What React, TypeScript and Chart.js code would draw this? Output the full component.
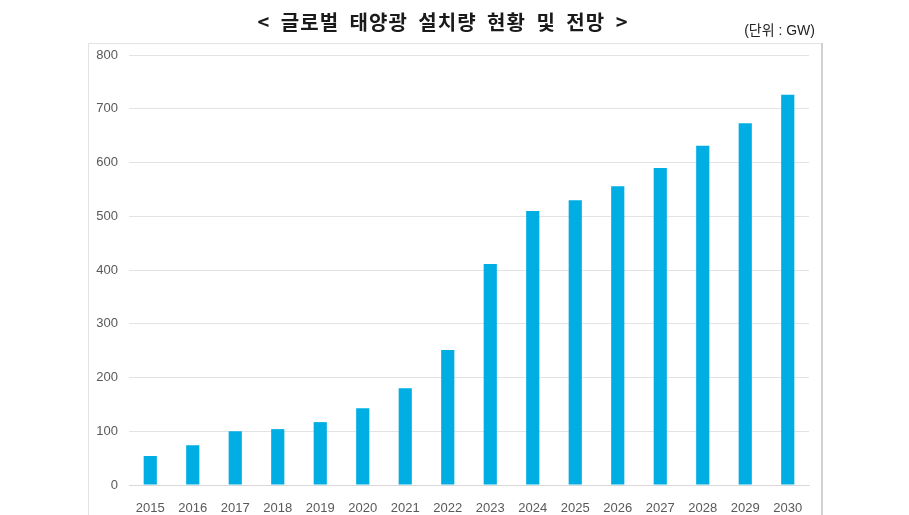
import React, { useEffect, useRef } from "react";
import { Chart, registerables } from "chart.js";

Chart.register(...registerables);

const TITLE = "< 글로벌 태양광 설치량 현황 및 전망 >";
const UNIT = "(단위 : GW)";
const years = ["2015","2016","2017","2018","2019","2020","2021","2022","2023","2024","2025","2026","2027","2028","2029","2030"];
const installs = [54, 74, 100, 104, 117, 143, 180, 251, 411, 510, 530, 556, 590, 631, 673, 726];
const yTicks = [0, 100, 200, 300, 400, 500, 600, 700, 800];

const framePlugin = {
  id: "frame",
  beforeDraw(chart: any) {
    const ctx = chart.ctx;
    ctx.save();
    ctx.fillStyle = "#ffffff";
    ctx.fillRect(0, 0, chart.width, chart.height);
    ctx.strokeStyle = "#e3e3e3";
    ctx.lineWidth = 1;
    ctx.beginPath();
    ctx.moveTo(88.5, 520);
    ctx.lineTo(88.5, 43.5);
    ctx.lineTo(821.5, 43.5);
    ctx.stroke();
    ctx.strokeStyle = "#d0d0d0";
    ctx.lineWidth = 2;
    ctx.beginPath();
    ctx.moveTo(822, 43);
    ctx.lineTo(822, 520);
    ctx.stroke();
    ctx.fillStyle = "#1a1a1a";
    ctx.font = "bold 20px 'Noto Sans CJK KR', sans-serif";
    ctx.textAlign = "center";
    ctx.textBaseline = "middle";
    (ctx as any).letterSpacing = "1px";
    (ctx as any).wordSpacing = "5px";
    ctx.fillText(TITLE, 443, 22);
    (ctx as any).letterSpacing = "0px";
    (ctx as any).wordSpacing = "0px";
    ctx.font = "14px 'Liberation Sans', 'Noto Sans CJK KR', sans-serif";
    ctx.textAlign = "right";
    ctx.fillStyle = "#222222";
    ctx.fillText(UNIT, 815, 31);
    ctx.restore();
  },
};

export default function App() {
  const ref = useRef<HTMLCanvasElement | null>(null);
  useEffect(() => {
    if (!ref.current) return;
    const chart = new Chart(ref.current, {
      type: "bar",
      data: {
        labels: years,
        datasets: [
          {
            data: installs,
            backgroundColor: "#00aee4",
            barPercentage: 0.31,
            categoryPercentage: 1,
          },
        ],
      },
      options: {
        animation: false,
        responsive: false,
        maintainAspectRatio: false,
        layout: { padding: { left: 88, right: 100, top: 55, bottom: 0 } },
        plugins: { legend: { display: false }, tooltip: { enabled: false } },
        scales: {
          x: {
            grid: { display: false },
            border: { display: true, color: "#d9d9d9" },
            ticks: { color: "#595959", font: { family: "'Liberation Sans', Arial", size: 13 }, padding: 8, maxRotation: 0 },
            afterFit: (s: any) => { s.height = 30; },
          },
          y: {
            min: 0,
            max: 800,
            afterBuildTicks: (s: any) => { s.ticks = yTicks.map((v) => ({ value: v })); },
            grid: { color: "#e3e3e3", drawTicks: false },
            border: { display: false },
            ticks: { color: "#595959", font: { family: "'Liberation Sans', Arial", size: 13 }, padding: 11 },
            afterFit: (s: any) => { s.width = 41; },
          },
        },
      },
      plugins: [framePlugin],
    });
    return () => chart.destroy();
  }, []);
  return (
    <div style={{ position: "fixed", left: 0, top: 0, width: 909, height: 515, background: "#fff" }}>
      <canvas ref={ref} width={909} height={515} style={{ display: "block" }} />
    </div>
  );
}
